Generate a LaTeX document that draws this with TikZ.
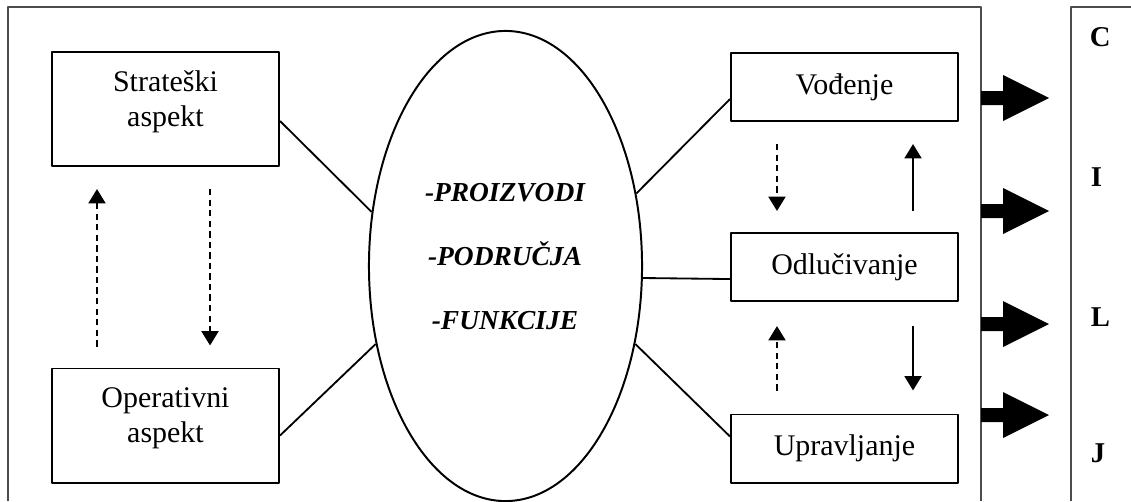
\documentclass[tikz,border=0pt]{standalone}
\usepackage{fontspec}
\setmainfont{Liberation Serif}
\usetikzlibrary{shapes.geometric,arrows.meta}
\begin{document}
\begin{tikzpicture}[x=0.025cm,y=-0.025cm,line width=1.3pt,line join=round,
		font={\fontsize{21.3pt}{24.9pt}\selectfont},>={Triangle[width=4.2mm,length=3.6mm]},
		box/.style={draw,line width=1.4pt,minimum width=5.675cm,align=center,inner sep=0pt},
		tall/.style={box,minimum height=2.85cm,text depth=0.52cm},
		flat/.style={box,minimum height=1.7cm},
		frame/.style={draw=black!70,line width=1.6pt},
		dsh/.style={line width=2pt,dash pattern=on 4.5pt off 3pt},
		sld/.style={line width=1.8pt},
		letter/.style={anchor=west,inner sep=0pt,font={\fontsize{20.4pt}{24pt}\selectfont\bfseries}}]
		\useasboundingbox (0,0) rectangle (1131,501);
		\draw[frame] (8,501)--(8,7)--(981,7)--(981,501);
		\draw[frame] (1071,501)--(1071,7)--(1135,7);
		\begin{scope}
			\node[tall] (sa) at (165.5,109) {Strateški\\aspekt};
			\node[tall] (oa) at (165.5,425.5) {Operativni\\aspekt};
			\draw[dsh,->,shorten <=0.525cm,shorten >=0.55cm] ([xshift=-1.7125cm]oa.north)--([xshift=-1.7125cm]sa.south);
			\draw[dsh,->,shorten <=0.55cm,shorten >=0.55cm] ([xshift=1.1125cm]sa.south)--([xshift=1.1125cm]oa.north);
		\end{scope}
		\node[draw,ellipse,line width=1.4pt,minimum width=6.825cm,minimum height=11.75cm,inner sep=0pt] (el) at (505.5,266) {};
		\node[align=center,font={\fontsize{19.5pt}{45.5pt}\selectfont\bfseries\itshape}] (items) at (505,257) {-PROIZVODI\\-PODRUČJA\\-FUNKCIJE};
		\begin{scope}
			\node[flat] (vo) at (844.5,87) {Vođenje};
			\node[flat] (od) at (844.5,267) {Odlučivanje};
			\node[flat] (up) at (844.5,448.5) {Upravljanje};
			\draw[dsh,->,shorten <=0.55cm,shorten >=0.525cm] ([xshift=-1.6875cm]vo.south)--([xshift=-1.6875cm]od.north);
			\draw[sld,->,shorten <=0.525cm,shorten >=0.55cm] ([xshift=1.7125cm]od.north)--([xshift=1.7125cm]vo.south);
			\draw[dsh,->,shorten <=0.575cm,shorten >=0.6cm] ([xshift=-1.6875cm]up.north)--([xshift=-1.6875cm]od.south);
			\draw[sld,->,shorten <=0.6cm,shorten >=0.575cm] ([xshift=1.7125cm]od.south)--([xshift=1.7125cm]up.north);
		\end{scope}
		\draw (sa.-6.5)--(el.158);
		\draw (oa.-5.8)--(el.211);
		\draw (el.29.6)--(vo.186.5);
		\draw (el.-5.4)--(od.186);
		\draw (el.-31.2)--(up.174.2);
		\foreach \y in {98,211,324,415}
		{\fill (981,\y-7)--(1003,\y-7)--(1003,\y-23)--(1049,\y)--(1003,\y+23)--(1003,\y+7)--(981,\y+7)--cycle;}
		\node[letter] (lc) at (1089,37.5) {C};
		\node[letter] (li) at (1090,177) {I};
		\node[letter] (ll) at (1090,317) {L};
		\node[letter] (lj) at (1090,453) {J};
\end{tikzpicture}
\end{document}
